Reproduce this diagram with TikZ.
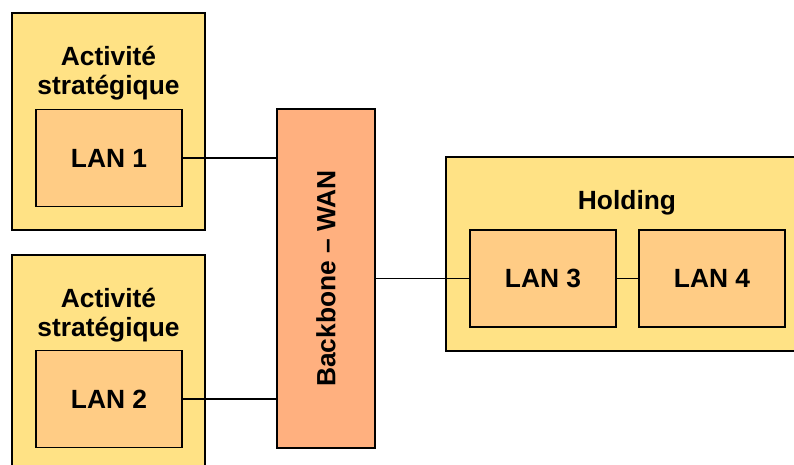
\documentclass[tikz,border=0pt]{standalone}
\usepackage{fontspec}
\setmainfont{Liberation Sans}
\usetikzlibrary{calc}
\definecolor{sitefill}{HTML}{FFE285}
\definecolor{lanfill}{HTML}{FFCC85}
\definecolor{wanfill}{HTML}{FFB07F}
\tikzset{
  site/.style={draw=black, line width=1.1pt, fill=sitefill, inner sep=0pt, outer sep=0pt},
  lanbox/.style={draw=black, line width=1.1pt, fill=lanfill, inner sep=0pt, outer sep=0pt,
    minimum width=2.92cm, minimum height=1.94cm, font=\bigfont},
  title/.style={align=center, font=\bigfont},
  link/.style={draw=black, line width=0.9pt}
}
\newcommand{\bigfont}{\fontsize{15}{16.5}\selectfont\bfseries}

\begin{document}
\begin{tikzpicture}
  \clip (0,0) rectangle (15.88,9.3);
  \fill[white] (0,0) rectangle (15.88,9.3);
  % sites
  \node[site, minimum width=3.86cm, minimum height=4.34cm] (site1) at (2.17,6.87) {};
  \node[site, minimum width=3.86cm, minimum height=4.5cm] (site2) at (2.17,1.95) {};
  \node[site, minimum width=7.28cm, minimum height=3.88cm] (holding) at (12.56,4.22) {};
  \node[title] (title1) at (2.17,7.84) {Activité\\stratégique};
  \node[title] (title2) at (2.17,3.0) {Activité\\stratégique};
  \node[title] (title3) at (12.54,5.25) {Holding};
  % LANs
  \node[lanbox] (lan1) at (2.18,6.14) {LAN 1};
  \node[lanbox] (lan2) at (2.18,1.32) {LAN 2};
  \node[lanbox] (lan3) at (10.86,3.73) {LAN 3};
  \node[lanbox] (lan4) at (14.24,3.73) {LAN 4};
  % backbone
  \node[draw=black, line width=1.1pt, fill=wanfill, inner sep=0pt, outer sep=0pt,
    minimum width=1.96cm, minimum height=6.78cm] (wan) at (6.52,3.73) {};
  \node[rotate=90, font=\bigfont] (wanlabel) at (wan.center) {Backbone -- WAN};
  % links
  \draw[link] (lan1.east) -- (lan1.east -| wan.west);
  \draw[link] (lan2.east) -- (lan2.east -| wan.west);
  \draw[link] (wan.east) -- (lan3.west);
  \draw[link] (lan3.east) -- (lan4.west);
\end{tikzpicture}
\end{document}
